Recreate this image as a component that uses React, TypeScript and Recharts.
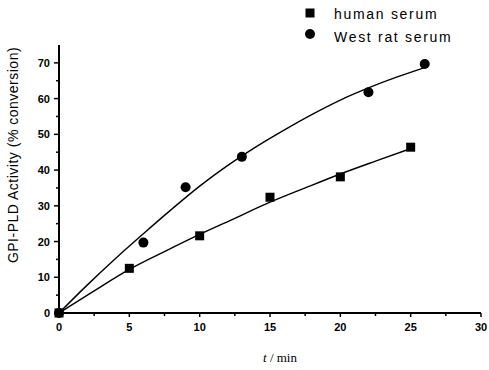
import React from "react";
import { ComposedChart, Line, Scatter, XAxis, YAxis } from "recharts";

// measured points
const humanPoints = [
  { t: 0, v: 0 },
  { t: 5, v: 12.5 },
  { t: 10, v: 21.6 },
  { t: 15, v: 32.4 },
  { t: 20, v: 38.1 },
  { t: 25, v: 46.4 },
];
const ratPoints = [
  { t: 0, v: 0 },
  { t: 6, v: 19.7 },
  { t: 9, v: 35.2 },
  { t: 13, v: 43.7 },
  { t: 22, v: 61.8 },
  { t: 26, v: 69.7 },
];

// fitted curves
const humanFit = [
  { t: 0, v: 0 },
  { t: 2.5, v: 6.2 },
  { t: 5, v: 12.2 },
  { t: 7.5, v: 17.2 },
  { t: 10, v: 22 },
  { t: 12.5, v: 26.5 },
  { t: 15, v: 31 },
  { t: 17.5, v: 35 },
  { t: 20, v: 38.9 },
  { t: 22.5, v: 42.5 },
  { t: 25, v: 46 },
];
const ratFit = [
  { t: 0, v: 0 },
  { t: 2, v: 7.8 },
  { t: 4, v: 15.2 },
  { t: 6, v: 22.2 },
  { t: 8, v: 29 },
  { t: 10, v: 35.5 },
  { t: 12, v: 41.3 },
  { t: 14, v: 46.5 },
  { t: 16, v: 51.2 },
  { t: 18, v: 55.6 },
  { t: 20, v: 59.6 },
  { t: 22, v: 63 },
  { t: 24, v: 66 },
  { t: 26, v: 68.7 },
];

const xTicks = [0, 2.5, 5, 7.5, 10, 12.5, 15, 17.5, 20, 22.5, 25, 27.5, 30];
const yTicks = [0, 5, 10, 15, 20, 25, 30, 35, 40, 45, 50, 55, 60, 65, 70];

const seriesNames = ["human serum", "West rat serum"];

const tickFont = {
  fontFamily: "Arial, 'Liberation Sans', sans-serif",
  fontSize: 11,
  fontWeight: 700,
  fill: "#000",
};

function YTick({ x, y, payload }: any) {
  const major = payload.value % 10 === 0;
  return (
    <g>
      <line x1={x - (major ? 5 : 3)} x2={x} y1={y} y2={y} stroke="#000" strokeWidth={1.5} />
      {major && (
        <text x={x - 9} y={y} dy={4} textAnchor="end" {...tickFont}>
          {payload.value}
        </text>
      )}
    </g>
  );
}

function XTick({ x, y, payload }: any) {
  const major = payload.value % 5 === 0;
  return (
    <g>
      <line x1={x} x2={x} y1={y} y2={y + (major ? 4 : 3)} stroke="#000" strokeWidth={1.5} />
      {major && (
        <text x={x} y={y + 18} textAnchor="middle" {...tickFont}>
          {payload.value}
        </text>
      )}
    </g>
  );
}

const Square = ({ cx, cy }: any) => <rect x={cx - 4.5} y={cy - 4.5} width={9} height={9} fill="#000" />;
const Dot = ({ cx, cy }: any) => <circle cx={cx} cy={cy} r={5} fill="#000" />;

export default function App() {
  const legendText: React.CSSProperties = {
    position: "absolute",
    left: 334,
    fontFamily: "Arial, 'Liberation Sans', sans-serif",
    fontSize: 14,
    letterSpacing: 1.7,
    color: "#000",
    lineHeight: "16px",
  };
  return (
    <div style={{ position: "absolute", left: 0, top: 0, width: 489, height: 370, background: "#fff" }}>
      <ComposedChart width={489} height={370} margin={{ top: 45, right: 8, bottom: 0, left: 0 }}>
        <XAxis
          type="number"
          dataKey="t"
          domain={[0, 30]}
          ticks={xTicks}
          interval={0}
          tickSize={0}
          tickMargin={0}
          tick={<XTick />}
          height={57}
          axisLine={{ stroke: "#000", strokeWidth: 2 }}
        />
        <YAxis
          type="number"
          domain={[0, 75]}
          ticks={yTicks}
          interval={0}
          tickSize={0}
          tickMargin={0}
          tick={<YTick />}
          width={59}
          axisLine={{ stroke: "#000", strokeWidth: 2 }}
        />
        <Line data={humanFit} dataKey="v" type="monotone" stroke="#000" strokeWidth={1.4} dot={false} isAnimationActive={false} />
        <Line data={ratFit} dataKey="v" type="monotone" stroke="#000" strokeWidth={1.4} dot={false} isAnimationActive={false} />
        <Scatter data={humanPoints} dataKey="v" shape={<Square />} isAnimationActive={false} />
        <Scatter data={ratPoints} dataKey="v" shape={<Dot />} isAnimationActive={false} />
      </ComposedChart>

      <svg width={20} height={45} style={{ position: "absolute", left: 300, top: 0 }}>
        <rect x={5.5} y={8.5} width={9} height={9} fill="#000" />
        <circle cx={10} cy={34} r={5} fill="#000" />
      </svg>
      <div style={{ ...legendText, top: 6 }}>{seriesNames[0]}</div>
      <div style={{ ...legendText, top: 29 }}>{seriesNames[1]}</div>

      <div
        style={{
          position: "absolute",
          left: 12.5,
          top: 155,
          transform: "translate(-50%, -50%) rotate(-90deg)",
          whiteSpace: "nowrap",
          fontFamily: "Arial, 'Liberation Sans', sans-serif",
          fontSize: 14,
          letterSpacing: 0.5,
          color: "#000",
        }}
      >
        GPI-PLD Activity (% conversion)
      </div>

      <div
        style={{
          position: "absolute",
          left: 280,
          top: 358,
          transform: "translate(-50%, -50%)",
          whiteSpace: "nowrap",
          fontFamily: "'Liberation Serif', 'DejaVu Serif', serif",
          fontSize: 13,
          color: "#000",
        }}
      >
        <i>t</i> / min
      </div>
    </div>
  );
}
